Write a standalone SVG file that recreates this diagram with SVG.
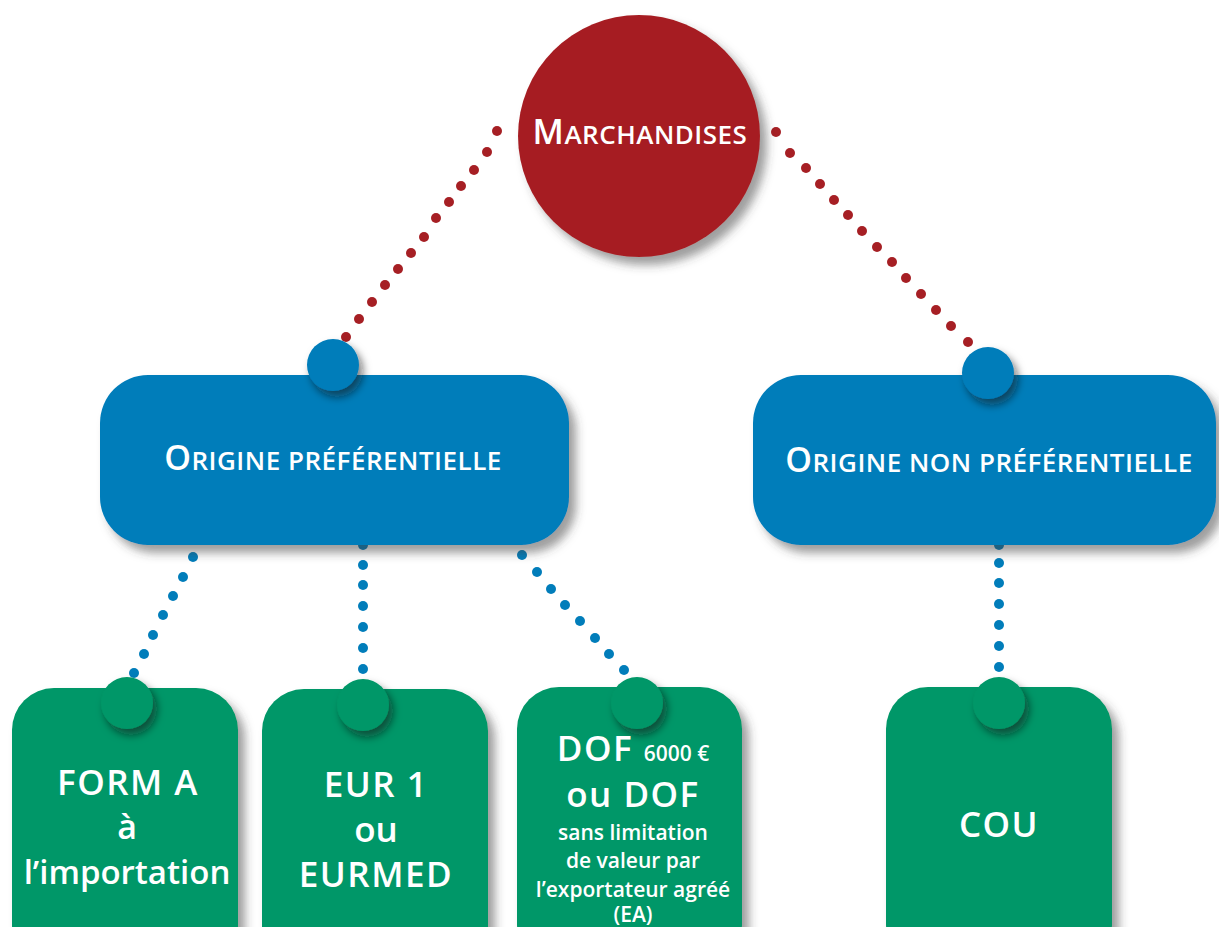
<svg xmlns="http://www.w3.org/2000/svg" width="1219" height="927" viewBox="0 0 1219 927">
<defs>
<filter id="sh" x="-20%" y="-20%" width="150%" height="150%">
<feDropShadow dx="7" dy="8" stdDeviation="5" flood-color="#3a3a3a" flood-opacity="0.5"/>
</filter>
<filter id="shk" x="-40%" y="-40%" width="200%" height="200%">
<feDropShadow dx="4" dy="6" stdDeviation="4" flood-color="#111" flood-opacity="0.55"/>
</filter>
</defs>
<style>
.red{fill:#A61F24}
.blue{fill:#017DBA}
.green{fill:#009767}
.rd{fill:#A61F24}
.bd{fill:#017DBA}
text{font-family:"Open Sans","Noto Sans","Liberation Sans",sans-serif;fill:#fff;font-weight:600;text-anchor:middle}
.cap{font-size:35px;letter-spacing:1.5px}
.sm{font-size:21px}
</style>
<rect width="1219" height="927" fill="#fff"/>
<g id="connectors">
<g class="rd">
<circle cx="497" cy="131" r="5"/><circle cx="487" cy="152" r="5"/><circle cx="474" cy="170" r="5"/><circle cx="461" cy="186" r="5"/><circle cx="449" cy="202" r="5"/><circle cx="436" cy="218" r="5"/><circle cx="424" cy="237" r="5"/><circle cx="411" cy="253" r="5"/><circle cx="398" cy="269" r="5"/><circle cx="385" cy="285" r="5"/><circle cx="372" cy="302" r="5"/><circle cx="359" cy="319" r="5"/><circle cx="346" cy="337" r="5"/>
<circle cx="776" cy="132" r="5"/><circle cx="790" cy="153" r="5"/><circle cx="806" cy="168" r="5"/><circle cx="820" cy="184" r="5"/><circle cx="834" cy="200" r="5"/><circle cx="848" cy="215" r="5"/><circle cx="862" cy="231" r="5"/><circle cx="877" cy="247" r="5"/><circle cx="892" cy="262" r="5"/><circle cx="906" cy="278" r="5"/><circle cx="921" cy="294" r="5"/><circle cx="936" cy="310" r="5"/><circle cx="951" cy="326" r="5"/><circle cx="968" cy="342" r="5"/>
</g>
<g class="bd">
<circle cx="193" cy="557" r="5"/><circle cx="183" cy="577" r="5"/><circle cx="173" cy="596" r="5"/><circle cx="163" cy="615" r="5"/><circle cx="153" cy="635" r="5"/><circle cx="144" cy="654" r="5"/><circle cx="134" cy="673" r="5"/>
<circle cx="363" cy="545" r="5"/><circle cx="363" cy="565" r="5"/><circle cx="363" cy="585" r="5"/><circle cx="363" cy="606" r="5"/><circle cx="363" cy="627" r="5"/><circle cx="363" cy="648" r="5"/><circle cx="363" cy="669" r="5"/>
<circle cx="522" cy="555" r="5"/><circle cx="537" cy="572" r="5"/><circle cx="551" cy="589" r="5"/><circle cx="565" cy="605" r="5"/><circle cx="580" cy="621" r="5"/><circle cx="595" cy="638" r="5"/><circle cx="609" cy="654" r="5"/><circle cx="624" cy="670" r="5"/>
<circle cx="999" cy="545" r="5"/><circle cx="999" cy="563" r="5"/><circle cx="999" cy="583" r="5"/><circle cx="999" cy="604" r="5"/><circle cx="999" cy="625" r="5"/><circle cx="999" cy="646" r="5"/><circle cx="999" cy="667" r="5"/>
</g>
</g>
<g id="marchandises">
<circle class="red" cx="639" cy="136" r="121" filter="url(#sh)"/>
<text x="640" y="144" letter-spacing="0.5"><tspan font-size="34">M</tspan><tspan font-size="26">ARCHANDISES</tspan></text>
</g>
<g id="origine-pref">
<rect class="blue" x="100" y="375" width="469" height="170" rx="48" filter="url(#sh)"/>
<circle class="blue" cx="333" cy="365" r="26" filter="url(#shk)"/>
<text x="333" y="470" letter-spacing="0.5"><tspan font-size="34">O</tspan><tspan font-size="26">RIGINE PRÉFÉRENTIELLE</tspan></text>
</g>
<g id="origine-nonpref">
<rect class="blue" x="753" y="375" width="463" height="170" rx="48" filter="url(#sh)"/>
<circle class="blue" cx="988" cy="373" r="26" filter="url(#shk)"/>
<text x="989" y="472" letter-spacing="0.5"><tspan font-size="34">O</tspan><tspan font-size="26">RIGINE NON PRÉFÉRENTIELLE</tspan></text>
</g>
<g id="form-a">
<rect class="green" x="12" y="688" width="226" height="280" rx="42" filter="url(#sh)"/>
<circle class="green" cx="127" cy="703" r="26" filter="url(#shk)"/>
<text class="cap" x="128" y="795">FORM A</text>
<text x="127" y="839" font-size="34">à</text>
<text x="127" y="884" font-size="33">l’importation</text>
</g>
<g id="eur1">
<rect class="green" x="262" y="689" width="226" height="280" rx="42" filter="url(#sh)"/>
<circle class="green" cx="363" cy="705" r="26" filter="url(#shk)"/>
<text class="cap" x="376" y="797">EUR 1</text>
<text x="376" y="842" font-size="35">ou</text>
<text class="cap" x="376" y="887">EURMED</text>
</g>
<g id="dof">
<rect class="green" x="517" y="687" width="225" height="280" rx="42" filter="url(#sh)"/>
<circle class="green" cx="637" cy="703" r="26" filter="url(#shk)"/>
<text x="633" y="761"><tspan class="cap">DOF </tspan><tspan class="sm">6000 €</tspan></text>
<text class="cap" x="633" y="807">ou DOF</text>
<text class="sm" x="633" y="840">sans limitation</text>
<text class="sm" x="633" y="868">de valeur par</text>
<text class="sm" x="633" y="897">l’exportateur agréé</text>
<text class="sm" x="633" y="922">(EA)</text>
</g>
<g id="cou">
<rect class="green" x="886" y="687" width="226" height="280" rx="42" filter="url(#sh)"/>
<circle class="green" cx="999" cy="703" r="26" filter="url(#shk)"/>
<text class="cap" x="999" y="837">COU</text>
</g>
</svg>
